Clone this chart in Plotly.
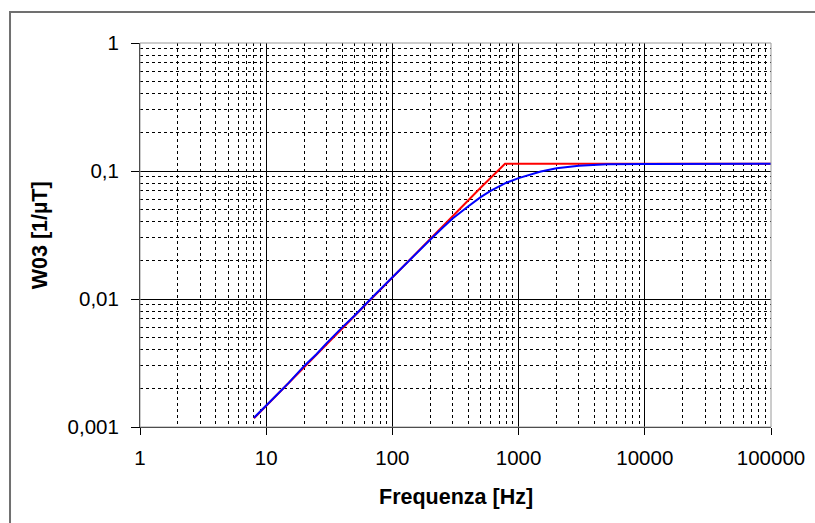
import plotly.graph_objects as go

# Blue curve (measured weighting) - frequency [Hz] and W03 [1/uT]
blue_f = [8, 9, 10, 12, 15, 20, 25, 30, 40, 50, 70, 100, 150, 200, 250, 300, 400, 500,
          600, 800, 1000, 1500, 2000, 3000, 5000, 10000, 100000]
blue_w = [0.00118, 0.00132, 0.00148, 0.00176, 0.0022, 0.0030, 0.0037, 0.0045, 0.0060,
          0.0074, 0.0104, 0.0148, 0.0222, 0.0292, 0.036, 0.0425, 0.053, 0.0625,
          0.070, 0.081, 0.088, 0.099, 0.105, 0.110, 0.1128, 0.1135, 0.114]

# Red curve (straight-line approximation)
red_f = [8, 100, 200, 300, 500, 780, 100000]
red_w = [0.00117, 0.0148, 0.0295, 0.0445, 0.074, 0.114, 0.114]

x_tickvals = [1, 10, 100, 1000, 10000, 100000]
x_ticktext = ["1", "10", "100", "1000", "10000", "100000"]
y_tickvals = [0.001, 0.01, 0.1, 1]
y_ticktext = ["0,001", "0,01", "0,1", "1"]

# minor gridline positions (2..9 within each decade)
x_minor = [m * d for d in [1, 10, 100, 1000, 10000] for m in range(2, 10)]
y_minor = [m * d for d in [0.001, 0.01, 0.1] for m in range(2, 10)]

fig = go.Figure()
fig.add_trace(go.Scatter(x=red_f, y=red_w, mode="lines",
                         line=dict(color="#ff0000", width=2), showlegend=False))
fig.add_trace(go.Scatter(x=blue_f, y=blue_w, mode="lines",
                         line=dict(color="#0000ff", width=2), showlegend=False))

fam = "Liberation Sans, Arial, sans-serif"
font = dict(family=fam, size=20, color="black")

fig.update_layout(
    width=815, height=523,
    margin=dict(l=140, r=44, t=43, b=96, autoexpand=False),
    paper_bgcolor="white", plot_bgcolor="white",
    font=font,
    showlegend=False,
    xaxis=dict(
        type="log", range=[0, 5], automargin=False,
        tickvals=x_tickvals, ticktext=x_ticktext,
        showgrid=True, gridcolor="black", gridwidth=1,
        showline=True, linecolor="black", linewidth=1,
        ticks="outside", ticklen=7, tickcolor="black",
        ticklabelstandoff=5,
        minor=dict(tickvals=x_minor, showgrid=True, gridcolor="black",
                   griddash="3px,3px", gridwidth=1, ticks=""),
        zeroline=False,
        tickfont=dict(size=20.5),
    ),
    yaxis=dict(
        type="log", range=[-3, 0], automargin=False,
        tickvals=y_tickvals, ticktext=y_ticktext,
        showgrid=True, gridcolor="black", gridwidth=1,
        showline=True, linecolor="black", linewidth=1,
        ticks="outside", ticklen=8, tickcolor="black",
        ticklabelstandoff=8,
        minor=dict(tickvals=y_minor, showgrid=True, gridcolor="black",
                   griddash="3px,3px", gridwidth=1, ticks=""),
        zeroline=False,
        tickfont=dict(size=20.5),
    ),
    annotations=[
        dict(text="<b>Frequenza [Hz]</b>", xref="paper", yref="paper",
             x=0.5, y=-0.182, xanchor="center", yanchor="middle",
             showarrow=False, font=dict(family=fam, size=21.5)),
        dict(text="<b>W03 [1/µT]</b>", xref="paper", yref="paper",
             x=-0.158, y=0.5, xanchor="center", yanchor="middle", textangle=-90,
             showarrow=False, font=dict(family=fam, size=21.5)),
    ],
    shapes=[
        dict(type="rect", xref="paper", yref="paper", x0=0, x1=1, y0=0, y1=1,
             line=dict(color="#9a9a9a", width=1), layer="above"),
        dict(type="rect", xref="paper", yref="paper", x0=-0.206, x1=1.2, y0=-0.5, y1=1.081,
             line=dict(color="#707070", width=2), layer="below"),
    ],
)

fig.write_html("out.html")
